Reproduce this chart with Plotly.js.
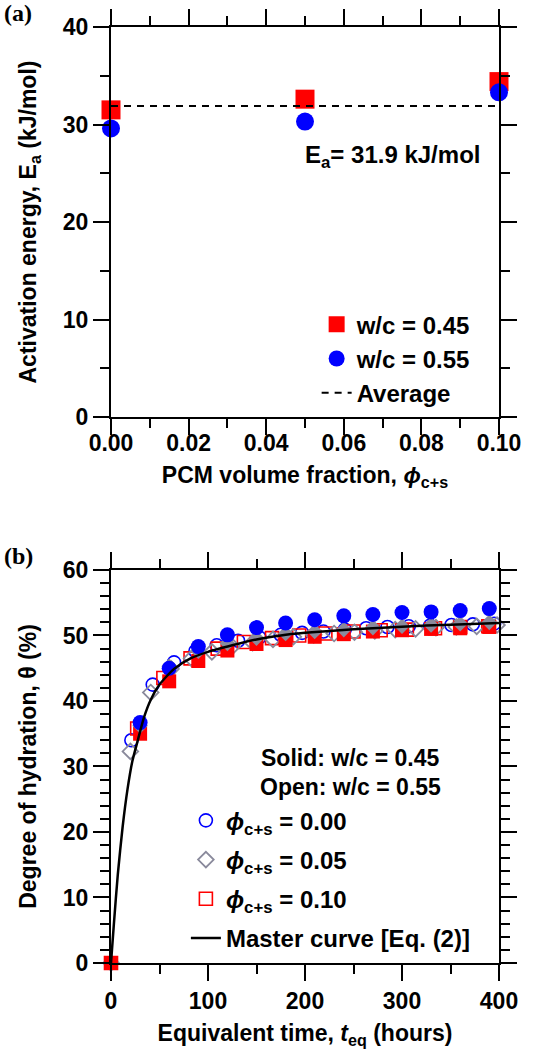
<!DOCTYPE html>
<html>
<head>
<meta charset="utf-8">
<script src="https://cdn.plot.ly/plotly-3.0.1.min.js"></script>
<style>html,body{margin:0;padding:0;background:#fff;}#chart{width:533px;height:1056px;}</style>
</head>
<body>
<div id="chart"></div>
<script>
// ---------- Panel (a) data ----------
const phiA = [0.00, 0.05, 0.10];
const eaWc045 = [31.5, 32.6, 34.4];
const eaWc055 = [29.6, 30.3, 33.3];
const avgX = [0.00, 0.10];
const avgY = [31.9, 31.9];
const xTickA = [0, 0.02, 0.04, 0.06, 0.08, 0.10];
const xTickTextA = ['0.00', '0.02', '0.04', '0.06', '0.08', '0.10'];

// ---------- Panel (b) data ----------
// solid markers: w/c = 0.45
const tSolid = [0, 30, 60, 90, 120, 150, 180, 210, 240, 270, 300, 330, 360, 390];
const thSolid000 = [null, 36.7, 45.0, 48.3, 50.1, 51.2, 51.9, 52.4, 53.0, 53.2, 53.5, 53.6, 53.8, 54.1];
const thSolid005 = [null, 36.2, 45.3, 47.6, 48.8, 49.6, 50.3, 50.6, 50.9, 51.2, 51.4, 51.6, 51.8, 52.0];
const thSolid010 = [0, 35.0, 43.0, 46.1, 47.7, 48.7, 49.3, 49.8, 50.2, 50.6, 50.8, 51.0, 51.1, 51.3];
// open markers: w/c = 0.55
const tOpen000 = [0, 21, 43, 65, 87, 109, 131, 153, 175, 197, 219, 241, 263, 285, 307, 329, 351, 373, 395];
const thOpen000 = [0, 34.0, 42.5, 45.9, 47.6, 48.5, 49.2, 49.7, 50.1, 50.4, 50.6, 50.9, 51.1, 51.3, 51.4, 51.5, 51.6, 51.7, 51.8];
const tOpen005 = [0, 20, 41, 62, 83, 104, 125, 146, 167, 188, 209, 230, 251, 272, 293, 314, 335, 356, 377, 398];
const thOpen005 = [0, 32.3, 41.3, 44.9, 46.5, 47.5, 48.3, 48.9, 49.4, 49.8, 50.1, 50.3, 50.5, 50.7, 50.9, 51.0, 51.2, 51.3, 51.4, 51.6];
const tOpen010 = [0, 27, 54, 82, 110, 137, 166, 194, 221, 250, 278, 305, 334, 360, 389];
const thOpen010 = [0, 35.8, 43.5, 46.5, 48.0, 49.0, 49.6, 50.0, 50.3, 50.6, 50.8, 50.9, 51.1, 51.3, 51.4];
// master curve
const curveT = [0, 3, 7, 12, 17, 22, 28, 34, 41, 50, 65, 82, 100, 125, 150, 175, 200, 250, 300, 350, 400];
const curveTh = [0, 6, 13.5, 20.8, 26.5, 30.8, 34.2, 37.5, 40.2, 42.5, 44.9, 46.5, 47.5, 48.5, 49.4, 50.0, 50.4, 50.95, 51.35, 51.65, 51.9];

const BLUE = '#0000ff', RED = '#ff0000', GRAY = '#8a8a9c';
const FONT = 'Liberation Sans, Arial, sans-serif';
const bold = (size) => ({family: FONT, size: size, color: '#000', weight: 'bold'});
const PHI = '<i>\u03D5</i><sub>c+s</sub>';

const traces = [
  // panel a
  {x: phiA, y: eaWc045, type: 'scatter', mode: 'markers', name: 'w/c = 0.45',
   marker: {symbol: 'square', size: 19, color: RED}, xaxis: 'x', yaxis: 'y', legend: 'legend', cliponaxis: false},
  {x: phiA, y: eaWc055, type: 'scatter', mode: 'markers', name: 'w/c = 0.55',
   marker: {symbol: 'circle', size: 18, color: BLUE}, xaxis: 'x', yaxis: 'y', legend: 'legend', cliponaxis: false},
  {x: avgX, y: avgY, type: 'scatter', mode: 'lines', name: 'Average',
   line: {color: '#000', width: 2, dash: '7px,6px'}, xaxis: 'x', yaxis: 'y', legend: 'legend'},
  // panel b open
  {x: tOpen000, y: thOpen000, type: 'scatter', mode: 'markers', name: PHI + ' = 0.00', legendrank: 1, legendgroup: 'g1',
   marker: {symbol: 'circle-open', size: 13, color: BLUE, line: {width: 1.6, color: BLUE}}, xaxis: 'x2', yaxis: 'y2', legend: 'legend2', cliponaxis: false},
  {x: tOpen010, y: thOpen010, type: 'scatter', mode: 'markers', name: PHI + ' = 0.10', legendrank: 3, legendgroup: 'g3',
   marker: {symbol: 'square-open', size: 13, color: RED, line: {width: 1.6, color: RED}}, xaxis: 'x2', yaxis: 'y2', legend: 'legend2', cliponaxis: false},
  {x: tOpen005, y: thOpen005, type: 'scatter', mode: 'markers', name: PHI + ' = 0.05', legendrank: 2, legendgroup: 'g2',
   marker: {symbol: 'diamond-open', size: 12, color: GRAY, line: {width: 1.8, color: GRAY}}, xaxis: 'x2', yaxis: 'y2', legend: 'legend2', cliponaxis: false},
  // panel b solid
  {x: tSolid, y: thSolid010, type: 'scatter', mode: 'markers', showlegend: false,
   marker: {symbol: 'square', size: 14, color: RED}, xaxis: 'x2', yaxis: 'y2', cliponaxis: false},
  {x: tSolid, y: thSolid005, type: 'scatter', mode: 'markers', showlegend: false,
   marker: {symbol: 'diamond', size: 12, color: GRAY}, xaxis: 'x2', yaxis: 'y2', cliponaxis: false},
  {x: tSolid, y: thSolid000, type: 'scatter', mode: 'markers', showlegend: false,
   marker: {symbol: 'circle', size: 15, color: BLUE}, xaxis: 'x2', yaxis: 'y2', cliponaxis: false},
  // master curve
  {x: curveT, y: curveTh, type: 'scatter', mode: 'lines', name: 'Master curve [Eq. (2)]', legendrank: 4, legendgroup: 'g4',
   line: {color: '#000', width: 2.5, shape: 'spline', smoothing: 0.6}, xaxis: 'x2', yaxis: 'y2', legend: 'legend2'}
];

const axisCommon = {
  showline: true, linecolor: '#000', linewidth: 2, mirror: 'allticks',
  ticks: 'outside', ticklen: 16, tickwidth: 2, tickcolor: '#000',
  showgrid: false, zeroline: false, tickfont: bold(23), automargin: false
};

const layout = {
  width: 533, height: 1056,
  margin: {l: 111, r: 34, t: 27, b: 93},
  paper_bgcolor: '#fff', plot_bgcolor: '#fff',
  font: {family: FONT, weight: 'bold', color: '#000'},
  showlegend: true,
  xaxis: Object.assign({}, axisCommon, {
    anchor: 'y', domain: [0, 1], range: [0, 0.10],
    tickvals: xTickA, ticktext: xTickTextA, ticklabelstandoff: -12,
    minor: {dtick: 0.01, tick0: 0, ticks: 'outside', ticklen: 9, tickwidth: 2, tickcolor: '#000'},
    title: {text: 'PCM volume fraction, ' + PHI, font: bold(23), standoff: 12}
  }),
  yaxis: Object.assign({}, axisCommon, {
    anchor: 'x', domain: [0.5833, 1], range: [0, 40], dtick: 10,
    minor: {dtick: 5, tick0: 0, ticks: 'outside', ticklen: 9, tickwidth: 2, tickcolor: '#000'},
    title: {text: 'Activation energy, E<sub>a</sub> (kJ/mol)', font: bold(23), standoff: 20}
  }),
  xaxis2: Object.assign({}, axisCommon, {
    anchor: 'y2', domain: [0, 1], range: [0, 400], dtick: 100,
    minor: {dtick: 50, tick0: 0, ticks: 'outside', ticklen: 9, tickwidth: 2, tickcolor: '#000'},
    title: {text: 'Equivalent time, <i>t</i><sub>eq</sub> (hours)', font: bold(23), standoff: 12}
  }),
  yaxis2: Object.assign({}, axisCommon, {
    anchor: 'x2', domain: [0, 0.4199], range: [0, 60], dtick: 10,
    minor: {dtick: 2, tick0: 0, ticks: 'outside', ticklen: 9, tickwidth: 2, tickcolor: '#000'},
    title: {text: 'Degree of hydration, θ (%)', font: bold(23), standoff: 20}
  }),
  legend: {
    x: 0.53, y: 0.706, xanchor: 'left', yanchor: 'top',
    bgcolor: 'rgba(0,0,0,0)', borderwidth: 0, font: bold(24), traceorder: 'normal',
    itemsizing: 'trace'
  },
  legend2: {
    x: 0.193, y: 0.176, xanchor: 'left', yanchor: 'top',
    bgcolor: 'rgba(0,0,0,0)', borderwidth: 0, font: bold(24), traceorder: 'grouped',
    tracegroupgap: 5, itemsizing: 'trace'
  },
  annotations: [
    {text: '(a)', xref: 'paper', yref: 'paper', x: -0.28, y: 1.015, xanchor: 'left', yanchor: 'middle',
     showarrow: false, font: {family: 'Liberation Serif, Times New Roman, serif', size: 24, color: '#000', weight: 'bold'}},
    {text: '(b)', xref: 'paper', yref: 'paper', x: -0.28, y: 0.435, xanchor: 'left', yanchor: 'middle',
     showarrow: false, font: {family: 'Liberation Serif, Times New Roman, serif', size: 24, color: '#000', weight: 'bold'}},
    {text: 'E<sub>a</sub>= 31.9 kJ/mol', xref: 'x', yref: 'y', x: 0.0955, y: 26.7, xanchor: 'right', yanchor: 'middle',
     showarrow: false, font: bold(24)},
    {text: 'Solid: w/c = 0.45', xref: 'x2', yref: 'y2', x: 247, y: 31.3, xanchor: 'center', yanchor: 'middle',
     showarrow: false, font: bold(23)},
    {text: 'Open: w/c = 0.55', xref: 'x2', yref: 'y2', x: 247, y: 26.9, xanchor: 'center', yanchor: 'middle',
     showarrow: false, font: bold(23)}
  ]
};

Plotly.newPlot('chart', traces, layout, {displayModeBar: false, staticPlot: true});
</script>
</body>
</html>
